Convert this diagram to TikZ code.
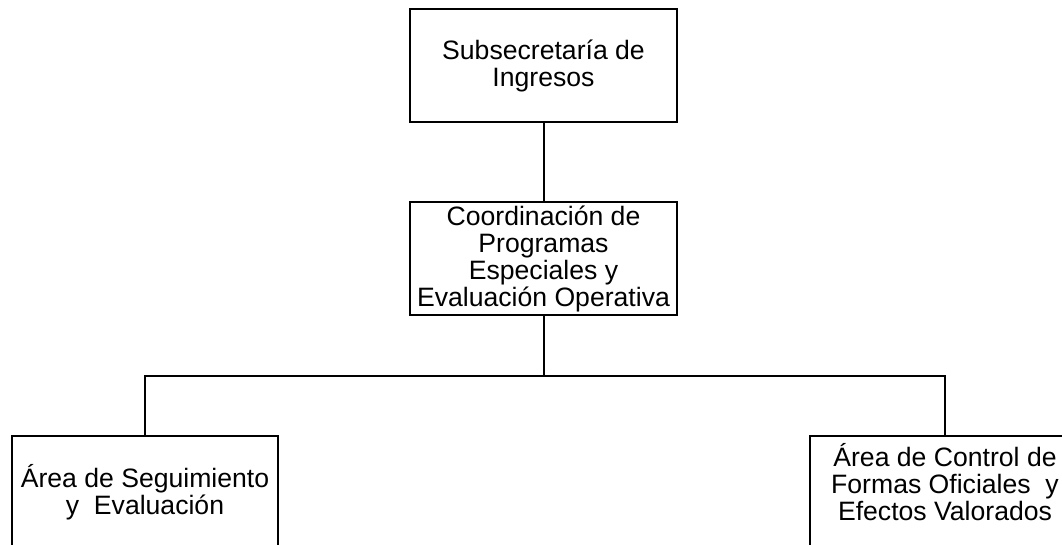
\documentclass[tikz,border=0pt]{standalone}
\usepackage{fontspec}
\setmainfont{Liberation Sans}
\usepackage{tikz}
\usetikzlibrary{calc}
\usetikzlibrary{positioning}

\begin{document}
\begin{tikzpicture}[-,line width=2pt,node distance=78pt,x=1pt,y=1pt]
	\tikzstyle{unit}=[draw, rectangle, inner sep=0pt, align=center, minimum width=267pt, minimum height=113pt, font=\fontsize{26.6}{27}\selectfont]
	\clip (0,0) rectangle (1062,-544);
	\node[unit] 		(S)  at (543.5,-65.5)		{Subsecretaría de\\Ingresos};
	\node[unit] 		(C) [below=of S]		{Coordinación de\\Programas\\Especiales y\\Evaluación Operativa};
	\node[unit, minimum width=266pt] 	(A) [below=119pt of C, xshift=-398.5pt]	{Área de Seguimiento\\y~~Evaluación};
	\node[unit, minimum width=270pt, text depth=22pt] 	(B) [below=119pt of C, xshift=401.5pt]	{Área de Control de\\Formas Oficiales~~y\\Efectos Valorados};
	\coordinate (bus) at ($(C.south)!0.5!(C.south |- A.north)$);

	\path
		(S) edge (C)
		(C.south) edge (bus);
	\draw (A.north) |- (bus) -| (B.north);
\end{tikzpicture}
\end{document}
